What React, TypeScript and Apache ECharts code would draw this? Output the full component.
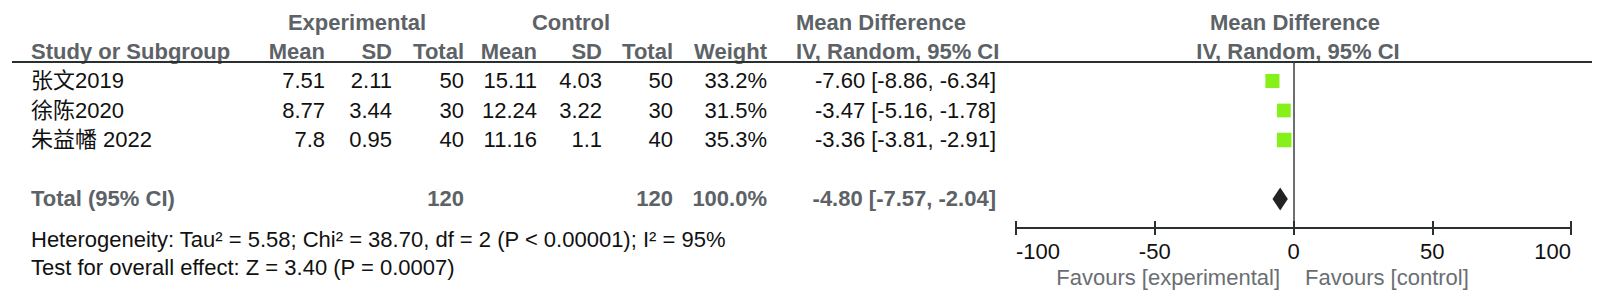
import React, { useEffect, useRef } from "react";
import * as echarts from "echarts";

// ---------------- data ----------------
const studies = ["张文2019", "徐陈2020", "朱益幡 2022"];
const expMean = [7.51, 8.77, 7.8];
const expSD = [2.11, 3.44, 0.95];
const expTotal = [50, 30, 40];
const ctlMean = [15.11, 12.24, 11.16];
const ctlSD = [4.03, 3.22, 1.1];
const ctlTotal = [50, 30, 40];
const weights = [33.2, 31.5, 35.3];
const md = [-7.6, -3.47, -3.36];
const ciLow = [-8.86, -5.16, -3.81];
const ciHigh = [-6.34, -1.78, -2.91];

const totalLabel = "Total (95% CI)";
const totalExp = 120;
const totalCtl = 120;
const totalWeight = 100.0;
const pooledMd = -4.8;
const pooledLow = -7.57;
const pooledHigh = -2.04;

const heterogeneityText =
  "Heterogeneity: Tau² = 5.58; Chi² = 38.70, df = 2 (P < 0.00001); I² = 95%";
const overallText = "Test for overall effect: Z = 3.40 (P = 0.0007)";

const groupHeaders = ["Experimental", "Control", "Mean Difference"];
const columnHeaders = ["Study or Subgroup", "Mean", "SD", "Total", "Mean", "SD", "Total", "Weight", "IV, Random, 95% CI"];
const plotHeaders = ["Mean Difference", "IV, Random, 95% CI"];
const favoursLabels = ["Favours [experimental]", "Favours [control]"];
const axisMin = -100;
const axisMax = 100;
const axisInterval = 50;

// ---------------- layout / style ----------------
const FONT = "'Liberation Sans', Arial, 'Noto Sans CJK SC', sans-serif";
const FS = 22;
const HEAD = "#5d6267";
const INK = "#111111";
const GREEN = "#86f01a";
const DIAMOND = "#232323";
const LINE = "#2a2f2f";

const GRID_TOP = 62;
const ROW_H = 29.5;
const ROW_OFF = 0.644;
const Y_MAX = 4.983;
const TOTAL_ROW = 4;
const rowY = (i: number) => GRID_TOP + (i + ROW_OFF) * ROW_H;

// right edges of numeric columns
const COLS = [325, 392, 464, 537, 602, 673, 767, 996];
const NAME_X = 31;
const HEAD1_Y = 22;
const HEAD2_Y = 51;
const HET_Y = 239;
const TEST_Y = 267;
const FAV_Y = 277;

const fmtCI = (m: number, l: number, h: number) =>
  `${m.toFixed(2)} [${l.toFixed(2)}, ${h.toFixed(2)}]`;

function txt(
  text: string,
  x: number,
  y: number,
  align: string,
  bold: boolean,
  color: string
) {
  return {
    type: "text",
    x,
    y,
    silent: true,
    style: {
      text,
      fontSize: FS,
      fontFamily: FONT,
      fontWeight: bold ? "bold" : "normal",
      fill: color,
      align,
      verticalAlign: "middle",
    },
  };
}

function buildGraphics() {
  const g: any[] = [];
  // group headers
  g.push(txt(groupHeaders[0], 357, HEAD1_Y, "center", true, HEAD));
  g.push(txt(groupHeaders[1], 571, HEAD1_Y, "center", true, HEAD));
  g.push(txt(groupHeaders[2], 796, HEAD1_Y, "left", true, HEAD));
  g.push(txt(plotHeaders[0], 1295, HEAD1_Y, "center", true, HEAD));
  // column headers
  g.push(txt(columnHeaders[0], NAME_X, HEAD2_Y, "left", true, HEAD));
  for (let c = 1; c <= 7; c++) {
    g.push(txt(columnHeaders[c], COLS[c - 1], HEAD2_Y, "right", true, HEAD));
  }
  g.push(txt(columnHeaders[8], 796, HEAD2_Y, "left", true, HEAD));
  g.push(txt(plotHeaders[1], 1298, HEAD2_Y, "center", true, HEAD));
  // underline
  g.push({
    type: "line",
    silent: true,
    shape: { x1: 12, y1: GRID_TOP, x2: 1592, y2: GRID_TOP },
    style: { stroke: LINE, lineWidth: 2 },
  });
  // study rows
  studies.forEach((s, i) => {
    const y = rowY(i);
    g.push(txt(s, NAME_X, y, "left", false, INK));
    const vals = [
      String(expMean[i]),
      String(expSD[i]),
      String(expTotal[i]),
      String(ctlMean[i]),
      String(ctlSD[i]),
      String(ctlTotal[i]),
      weights[i].toFixed(1) + "%",
      fmtCI(md[i], ciLow[i], ciHigh[i]),
    ];
    vals.forEach((v, c) => g.push(txt(v, COLS[c], y, "right", false, INK)));
  });
  // total row
  const ty = rowY(TOTAL_ROW);
  g.push(txt(totalLabel, NAME_X, ty, "left", true, HEAD));
  g.push(txt(String(totalExp), COLS[2], ty, "right", true, HEAD));
  g.push(txt(String(totalCtl), COLS[5], ty, "right", true, HEAD));
  g.push(txt(totalWeight.toFixed(1) + "%", COLS[6], ty, "right", true, HEAD));
  g.push(txt(fmtCI(pooledMd, pooledLow, pooledHigh), COLS[7], ty, "right", true, HEAD));
  // footnotes
  g.push(txt(heterogeneityText, NAME_X, HET_Y, "left", false, INK));
  g.push(txt(overallText, NAME_X, TEST_Y, "left", false, INK));
  // favours
  g.push(txt(favoursLabels[0], 1280, FAV_Y, "right", false, "#6a6e72"));
  g.push(txt(favoursLabels[1], 1305, FAV_Y, "left", false, "#6a6e72"));
  return g;
}

export default function App() {
  const ref = useRef<HTMLDivElement>(null);
  useEffect(() => {
    if (!ref.current) return;
    const chart = echarts.init(ref.current, null, { renderer: "svg" });
    const axisBase = {
      type: "value",
      min: axisMin,
      max: axisMax,
      interval: axisInterval,
      position: "bottom",
      splitLine: { show: false },
    };
    chart.setOption({
      animation: false,
      backgroundColor: "#ffffff",
      grid: { left: 1016, right: 29, top: GRID_TOP, bottom: 72, containLabel: false },
      xAxis: [
        {
          ...axisBase,
          axisLine: { show: true, onZero: false, lineStyle: { color: LINE, width: 2 } },
          axisTick: { show: true, length: 7, lineStyle: { color: LINE, width: 2 } },
          axisLabel: {
            show: true,
            fontSize: FS,
            fontFamily: FONT,
            color: INK,
            margin: 12,
            alignMinLabel: "left",
            alignMaxLabel: "right",
          },
        },
        {
          ...axisBase,
          axisLine: { show: false, onZero: false },
          axisTick: { show: true, inside: true, length: 7, lineStyle: { color: LINE, width: 2 } },
          axisLabel: { show: false },
        },
      ],
      yAxis: {
        type: "value",
        inverse: true,
        min: -ROW_OFF,
        max: Y_MAX,
        axisLine: { show: true, onZero: true, lineStyle: { color: "#3a3f40", width: 1.5 } },
        axisTick: { show: false },
        axisLabel: { show: false },
        splitLine: { show: false },
      },
      series: [
        {
          type: "custom",
          xAxisIndex: 0,
          yAxisIndex: 0,
          silent: true,
          data: studies.map((_, i) => [md[i], i, ciLow[i], ciHigh[i], weights[i]]),
          encode: { x: [0, 2, 3], y: 1 },
          renderItem: (params: any, api: any) => {
            const p = api.coord([api.value(0), api.value(1)]);
            const l = api.coord([api.value(2), api.value(1)]);
            const h = api.coord([api.value(3), api.value(1)]);
            const size = Math.sqrt(api.value(4)) * 2.45;
            return {
              type: "group",
              children: [
                {
                  type: "line",
                  shape: { x1: l[0], y1: p[1], x2: h[0], y2: p[1] },
                  style: { stroke: "#222", lineWidth: 1.2 },
                },
                {
                  type: "rect",
                  shape: { x: p[0] - size / 2, y: p[1] - size / 2, width: size, height: size },
                  style: { fill: GREEN },
                },
              ],
            };
          },
        },
        {
          type: "custom",
          xAxisIndex: 0,
          yAxisIndex: 0,
          silent: true,
          data: [[pooledMd, TOTAL_ROW, pooledLow, pooledHigh]],
          encode: { x: [0, 2, 3], y: 1 },
          renderItem: (params: any, api: any) => {
            const c = api.coord([api.value(0), api.value(1)]);
            const l = api.coord([api.value(2), api.value(1)]);
            const h = api.coord([api.value(3), api.value(1)]);
            const half = 11.5;
            return {
              type: "polygon",
              shape: {
                points: [
                  [l[0], c[1]],
                  [c[0], c[1] - half],
                  [h[0], c[1]],
                  [c[0], c[1] + half],
                ],
              },
              style: { fill: DIAMOND },
            };
          },
        },
      ],
      graphic: buildGraphics(),
    });
    return () => chart.dispose();
  }, []);
  return (
    <div
      ref={ref}
      style={{ position: "fixed", left: 0, top: 0, width: 1600, height: 300, background: "#fff" }}
    />
  );
}
